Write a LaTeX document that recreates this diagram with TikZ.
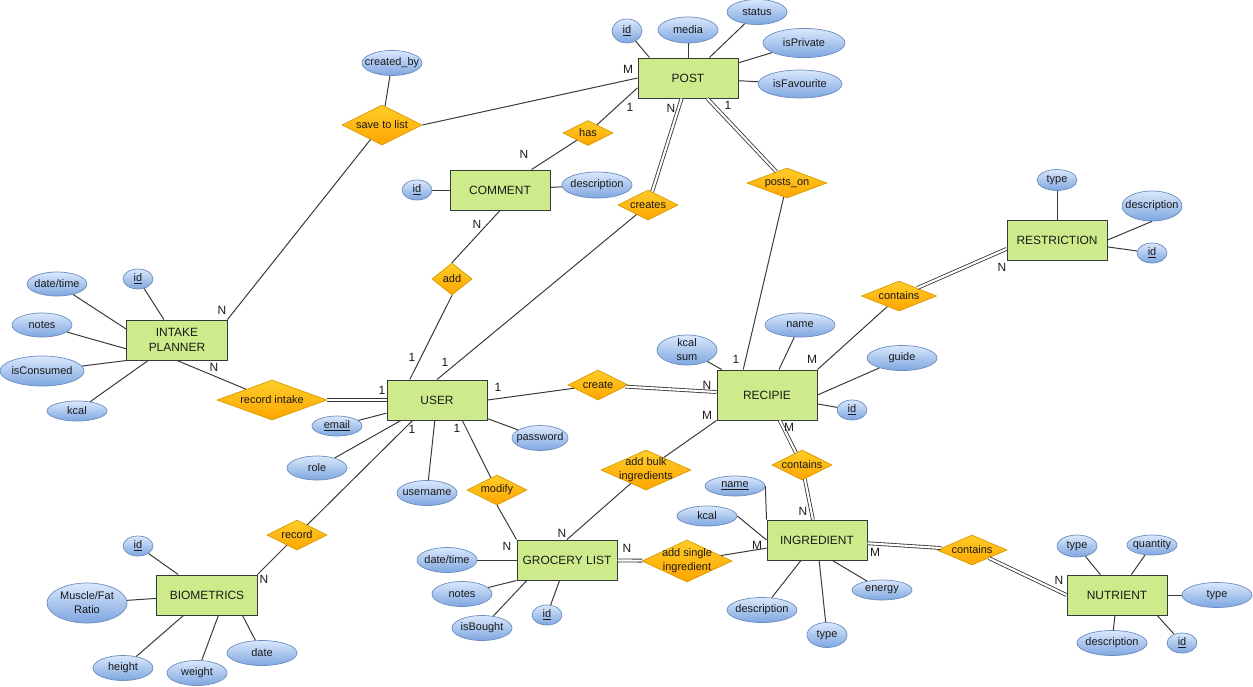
\documentclass[tikz,border=0pt]{standalone}
\usepackage{fontspec}
\setmainfont{Liberation Sans}
\usepackage{tikz}
\usetikzlibrary{shapes.geometric}
\definecolor{entfill}{HTML}{CDEB8B}
\definecolor{entline}{HTML}{36393D}
\definecolor{attrtop}{HTML}{DAE8FC}
\definecolor{attrbot}{HTML}{7EA6E0}
\definecolor{attrline}{HTML}{6C8EBF}
\definecolor{reltop}{HTML}{FFCD28}
\definecolor{relbot}{HTML}{FFA500}
\definecolor{relline}{HTML}{D79B00}
\definecolor{wire}{HTML}{383838}
\definecolor{ink}{HTML}{1A1A1A}
\tikzset{
  entity/.style={draw=entline,fill=entfill,line width=0.7pt,minimum width=2.5cm,minimum height=1cm,
    inner sep=0pt,align=center,text=ink,font=\fontsize{8.5}{10.6}\selectfont},
  atxt/.style={font=\fontsize{7.8}{9.9}\selectfont,align=center,text=ink,inner sep=0pt},
  attr/.style={ellipse,draw=attrline,top color=attrtop,bottom color=attrbot,line width=0.5pt,
    minimum width=1.5cm,minimum height=0.625cm,inner sep=0pt,label={[atxt]center:#1}},
  rel/.style={diamond,draw=relline,top color=reltop,bottom color=relbot,line width=0.5pt,
    minimum width=1.5cm,minimum height=0.75cm,inner sep=0pt,label={[atxt]center:#1}},
  card/.style={font=\fontsize{8.5}{10}\selectfont,text=ink,inner sep=0pt},
  ln/.style={draw=wire,line width=0.7pt},
  dbl/.style={draw=wire,line width=0.6pt,double=white,double distance=1.5pt},
}
\begin{document}
\begin{tikzpicture}[x=0.025cm,y=-0.025cm]
  \useasboundingbox (0,0) rectangle (1253,686);

  \node[entity] (post) at (688,78) {POST};
  \node[entity] (comment) at (500,190) {COMMENT};
  \node[entity] (intake) at (177,340) {INTAKE\\PLANNER};
  \node[entity] (user) at (437,400) {USER};
  \node[entity,minimum height=1.25cm] (recipe) at (767,395) {RECIPIE};
  \node[entity] (grocery) at (567,560) {GROCERY LIST};
  \node[entity] (ingr) at (817,540) {INGREDIENT};
  \node[entity] (bio) at (207,595) {BIOMETRICS};
  \node[entity] (restr) at (1057,240) {RESTRICTION};
  \node[entity] (nutr) at (1117,595) {NUTRIENT};

  \node[rel=save to list,minimum width=2cm,minimum height=1cm] (savelist) at (382,125) {};
  \node[rel=has,minimum width=1.25cm,minimum height=0.625cm] (has) at (588,133) {};
  \node[rel=creates] (creates) at (648,205) {};
  \node[rel=posts\_on,minimum width=2cm] (postson) at (787,183) {};
  \node[rel=add,minimum width=1cm,minimum height=0.8cm] (add) at (452,279) {};
  \node[rel=record intake,minimum width=2.75cm,minimum height=1cm] (recintake) at (272,400) {};
  \node[rel=create] (create) at (598,385) {};
  \node[rel=contains,minimum width=1.875cm] (containsr) at (899,296) {};
  \node[rel={add bulk\\ingredients},minimum width=2.25cm,minimum height=1cm] (addbulk) at (646,470) {};
  \node[rel=contains] (containsi) at (802,465) {};
  \node[rel=modify] (modify) at (497,490) {};
  \node[rel=record] (record) at (297,535) {};
  \node[rel={add single\\ingredient},minimum width=2.25cm,minimum height=1.05cm] (addsingle) at (687,561) {};
  \node[rel=contains,minimum width=1.75cm] (containsn) at (972,550) {};

  \node[attr=\underline{id},minimum width=0.75cm,minimum height=0.6cm] (postid) at (627,31) {};
  \node[attr=media,minimum height=0.65cm] (postmedia) at (688,30) {};
  \node[attr=status] (poststatus) at (757,12) {};
  \node[attr=isPrivate,minimum width=2.05cm,minimum height=0.73cm] (postprivate) at (804,43) {};
  \node[attr=isFavourite,minimum width=2.1cm,minimum height=0.7cm] (postfav) at (800,84) {};
  \node[attr=created\_by] (createdby) at (392,63) {};
  \node[attr=\underline{id},minimum width=0.75cm,minimum height=0.5cm] (commentid) at (417,190) {};
  \node[attr=description,minimum width=1.75cm,minimum height=0.65cm] (commentdesc) at (597,185) {};
  \node[attr=date/time,minimum height=0.6cm] (intakedate) at (57,284) {};
  \node[attr=\underline{id},minimum width=0.75cm,minimum height=0.5cm] (intakeid) at (138,279) {};
  \node[attr=notes,minimum height=0.6cm] (intakenotes) at (42,325) {};
  \node[attr=isConsumed,minimum width=2.1cm,minimum height=0.75cm] (intakecons) at (42,371) {};
  \node[attr=kcal,minimum height=0.5cm] (intakekcal) at (77,411) {};
  \node[attr=\underline{email},minimum width=1.25cm,minimum height=0.5cm] (useremail) at (337,426) {};
  \node[attr=role,minimum height=0.6cm] (userrole) at (317,468) {};
  \node[attr=username] (username) at (427,493) {};
  \node[attr=password,minimum width=1.4cm] (userpass) at (540,438) {};
  \node[attr={kcal\\sum},minimum height=0.75cm] (recipekcal) at (687,350) {};
  \node[attr=name,minimum width=1.75cm,minimum height=0.6cm] (recipename) at (800,325) {};
  \node[attr=guide,minimum width=1.75cm] (recipeguide) at (902,358) {};
  \node[attr=\underline{id},minimum width=0.75cm,minimum height=0.5cm] (recipeid) at (852,410) {};
  \node[attr=date/time] (grocerydate) at (447,560) {};
  \node[attr=notes] (grocerynotes) at (462,594) {};
  \node[attr=isBought] (grocerybought) at (482,628) {};
  \node[attr=\underline{id},minimum width=0.75cm,minimum height=0.5cm] (groceryid) at (547,615) {};
  \node[attr=\underline{name},minimum height=0.5cm] (ingrname) at (735,486) {};
  \node[attr=kcal,minimum height=0.5cm] (ingrkcal) at (707,516) {};
  \node[attr=description,minimum width=1.75cm] (ingrdesc) at (762,610) {};
  \node[attr=type,minimum width=1cm] (ingrtype) at (827,635) {};
  \node[attr=energy,minimum height=0.5cm] (ingrenergy) at (882,590) {};
  \node[attr=type,minimum width=1cm,minimum height=0.55cm] (nutrtype) at (1077,546) {};
  \node[attr=quantity,minimum width=1.25cm,minimum height=0.5cm] (nutrqty) at (1152,545) {};
  \node[attr=type,minimum width=1.75cm] (nutrkind) at (1217,595) {};
  \node[attr=description,minimum width=1.75cm] (nutrdesc) at (1112,643) {};
  \node[attr=\underline{id},minimum width=0.75cm,minimum height=0.5cm] (nutrid) at (1182,643) {};
  \node[attr=type,minimum width=1cm,minimum height=0.525cm] (restrtype) at (1057,180) {};
  \node[attr=description,minimum height=0.75cm] (restrdesc) at (1152,206) {};
  \node[attr=\underline{id},minimum width=0.75cm,minimum height=0.5cm] (restrid) at (1152,253) {};
  \node[attr=\underline{id},minimum width=0.75cm,minimum height=0.5cm] (bioid) at (138,546) {};
  \node[attr={Muscle/Fat\\Ratio},minimum width=2cm,minimum height=1cm] (bioratio) at (87,603) {};
  \node[attr=height] (bioheight) at (123,668) {};
  \node[attr=weight] (bioweight) at (197,673) {};
  \node[attr=date,minimum width=1.75cm] (biodate) at (262,653) {};

  \draw[ln] (postid) -- (post.152);
  \draw[ln] (postmedia) -- (post);
  \draw[ln] (poststatus) -- (post);
  \draw[ln] (postprivate) -- (post);
  \draw[ln] (postfav) -- (post);
  \draw[ln] (createdby) -- (savelist);
  \draw[ln] (commentid) -- (comment);
  \draw[ln] (commentdesc) -- (comment);
  \draw[ln] (intakedate) -- (intake.168);
  \draw[ln] (intakeid) -- (intake);
  \draw[ln] (intakenotes) -- (intake.190);
  \draw[ln] (intakecons) -- (intake.south west);
  \draw[ln] (intakekcal) -- (intake);
  \draw[ln] (useremail) -- (user);
  \draw[ln] (userrole) -- (user);
  \draw[ln] (username) -- (user);
  \draw[ln] (userpass) -- (user);
  \draw[ln] (recipekcal) -- (recipe);
  \draw[ln] (recipename) -- (recipe);
  \draw[ln] (recipeguide) -- (recipe.east);
  \draw[ln] (recipeid) -- (recipe);
  \draw[ln] (grocerydate) -- (grocery);
  \draw[ln] (grocerynotes) -- (grocery.south west);
  \draw[ln] (grocerybought) -- (grocery.207);
  \draw[ln] (groceryid) -- (grocery);
  \draw[ln] (ingrname.east) -- (ingr.north west);
  \draw[ln] (ingrkcal.east) -- (ingr.west);
  \draw[ln] (ingrdesc) -- (ingr);
  \draw[ln] (ingrtype) -- (ingr);
  \draw[ln] (ingrenergy) -- (ingr.307);
  \draw[ln] (nutrtype) -- (nutr);
  \draw[ln] (nutrqty) -- (nutr);
  \draw[ln] (nutrkind) -- (nutr);
  \draw[ln] (nutrdesc) -- (nutr);
  \draw[ln] (nutrid) -- (nutr.333);
  \draw[ln] (restrtype) -- (restr);
  \draw[ln] (restrdesc.south) -- (restr.east);
  \draw[ln] (restrid) -- (restr);
  \draw[ln] (bioid) -- (bio);
  \draw[ln] (bioratio) -- (bio);
  \draw[ln] (bioheight) -- (bio);
  \draw[ln] (bioweight) -- (bio.299);
  \draw[ln] (biodate) -- (bio.330);

  \draw[ln] (savelist.east) -- (post.west);
  \draw[ln] (savelist) -- (intake.north east);
  \draw[ln] (has) -- (post.191);
  \draw[ln] (has) -- (comment);
  \draw[dbl] (creates) -- (post);
  \draw[ln] (creates) -- (user.north);
  \draw[dbl] (postson) -- (post);
  \draw[ln] (postson) -- (recipe.133);
  \draw[ln] (comment.south) -- (add.north);
  \draw[ln] (add.south) -- (user.143);
  \draw[ln] (intake.south) -- (recintake);
  \draw[dbl] (recintake) -- (user);
  \draw[ln] (user.east) -- (create);
  \draw[dbl] (create) -- (recipe);
  \draw[ln] (recipe.north east) -- (containsr);
  \draw[dbl] (containsr) -- (restr.190);
  \draw[ln] (recipe.south west) -- (addbulk);
  \draw[ln] (addbulk) -- (grocery.north);
  \draw[dbl] (recipe) -- (containsi);
  \draw[dbl] (containsi) -- (ingr);
  \draw[ln] (user.321) -- (modify);
  \draw[ln] (modify.south) -- (grocery.north west);
  \draw[ln] (user.220) -- (record);
  \draw[ln] (record) -- (bio.north east);
  \draw[dbl] (grocery) -- (addsingle);
  \draw[ln] (addsingle) -- (ingr);
  \draw[dbl] (ingr) -- (containsn);
  \draw[dbl] (containsn) -- (nutr.west);

  \node[card] (kpostsave) at (628,69) {M};
  \node[card] (kposthas) at (630,107) {1};
  \node[card] (kcommenthas) at (524,154) {N};
  \node[card] (kpostcreates) at (671,108) {N};
  \node[card] (kpostpostson) at (728,105) {1};
  \node[card] (kcommentadd) at (477,224) {N};
  \node[card] (kintakesave) at (222,310) {N};
  \node[card] (kintakerec) at (214,367) {N};
  \node[card] (kuserrec) at (382,390) {1};
  \node[card] (kuseradd) at (412,357) {1};
  \node[card] (kusercreates) at (445,362) {1};
  \node[card] (kusercreate) at (498,387) {1};
  \node[card] (kusermodify) at (457,428) {1};
  \node[card] (kuserrecord) at (412,429) {1};
  \node[card] (krecipecreate) at (707,385) {N};
  \node[card] (krecipebulk) at (707,415) {M};
  \node[card] (krecipepostson) at (736,359) {1};
  \node[card] (krecipecontr) at (812,359) {M};
  \node[card] (krecipeconti) at (789,427) {M};
  \node[card] (krestr) at (1002,267) {N};
  \node[card] (kgrocerymodify) at (507,546) {N};
  \node[card] (kgrocerybulk) at (562,533) {N};
  \node[card] (kgrocerysingle) at (627,548) {N};
  \node[card] (kingrsingle) at (757,545) {M};
  \node[card] (kingrconti) at (803,511) {N};
  \node[card] (kingrcontn) at (875,552) {M};
  \node[card] (knutr) at (1059,580) {N};
  \node[card] (kbio) at (264,579) {N};
\end{tikzpicture}
\end{document}
